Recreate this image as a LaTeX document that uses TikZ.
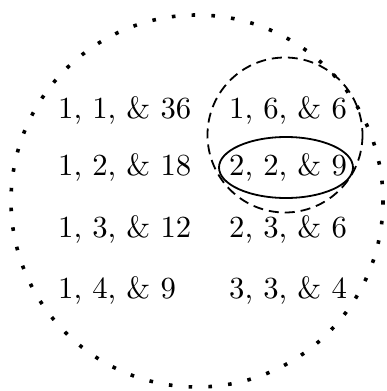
\documentclass[tikz,border=0pt]{standalone}
\newcommand{\bigtxt}[1]{\scalebox{3.07}{\fontsize{10}{12}\selectfont #1}}
\begin{document}
\begin{tikzpicture}[x=1pt,y=-1pt,
  lbl/.style={anchor=base west,inner sep=0pt},
  dotring/.style={line width=3.6pt,dash pattern=on 3.6pt off 16.2pt},
  dashring/.style={line width=1.8pt,dash pattern=on 10pt off 6pt},
  solidring/.style={line width=1.8pt}]
\useasboundingbox (0,0) rectangle (386,391);
\node[lbl] (a1) at (58,118) {\bigtxt{1, 1, \& 36}};
\node[lbl] (a2) at (58,175) {\bigtxt{1, 2, \& 18}};
\node[lbl] (a3) at (58,237) {\bigtxt{1, 3, \& 12}};
\node[lbl] (a4) at (58,298) {\bigtxt{1, 4, \& 9}};
\node[lbl] (b1) at (229,118) {\bigtxt{1, 6, \& 6}};
\node[lbl] (b2) at (229,175) {\bigtxt{2, 2, \& 9}};
\node[lbl] (b3) at (229,237) {\bigtxt{2, 3, \& 6}};
\node[lbl] (b4) at (229,298) {\bigtxt{3, 3, \& 4}};
\draw[dotring] (197,201) circle[radius=186];
\draw[dashring] (285,135) circle[radius=77.5];
\draw[solidring] (286,167.5) ellipse[x radius=67, y radius=30.5];
\end{tikzpicture}
\end{document}
